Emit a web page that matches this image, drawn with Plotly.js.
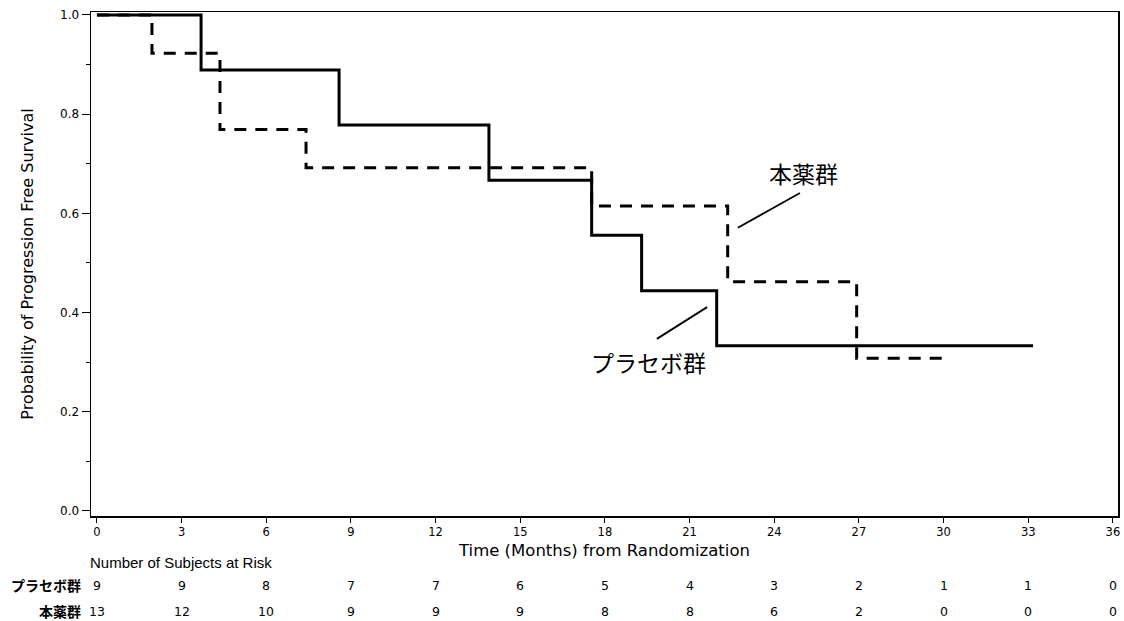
<!DOCTYPE html>
<html>
<head>
<meta charset="utf-8">
<script src="https://cdn.plot.ly/plotly-3.0.1.min.js"></script>
<style>html,body{margin:0;padding:0;background:#fff;}#chart{width:1124px;height:621px;}</style>
</head>
<body>
<div id="chart"></div>
<script>
// Kaplan-Meier step data (months, survival probability)
const placeboTime = [0, 3.69, 8.58, 13.89, 17.53, 19.3, 21.96, 33.17];
const placeboSurv = [1.0, 0.889, 0.778, 0.667, 0.556, 0.444, 0.333, 0.333];
const drugTime = [0, 1.95, 4.36, 7.41, 17.53, 22.35, 26.92, 29.98];
const drugSurv = [1.0, 0.923, 0.769, 0.692, 0.615, 0.462, 0.308, 0.308];

// Number at risk table
const riskTimes = [0, 3, 6, 9, 12, 15, 18, 21, 24, 27, 30, 33, 36];
const placeboRisk = [9, 9, 8, 7, 7, 6, 5, 4, 3, 2, 1, 1, 0];
const drugRisk = [13, 12, 10, 9, 9, 9, 8, 8, 6, 2, 0, 0, 0];
const groupNames = ["プラセボ群", "本薬群"];

const xTicks = [0, 3, 6, 9, 12, 15, 18, 21, 24, 27, 30, 33, 36];
const yTicks = [0.0, 0.2, 0.4, 0.6, 0.8, 1.0];

const font = "DejaVu Sans, sans-serif";
const jpFont = "Noto Sans CJK JP, sans-serif";

const traces = [
  {x: placeboTime, y: placeboSurv, type: "scatter", mode: "lines", name: groupNames[0],
   line: {shape: "hv", color: "#000", width: 3}, showlegend: false},
  {x: drugTime, y: drugSurv, type: "scatter", mode: "lines", name: groupNames[1],
   line: {shape: "hv", color: "#000", width: 3, dash: "12px,9px"}, showlegend: false}
];

const annotations = [];
const rowY = [-0.137, -0.189];
const rows = [placeboRisk, drugRisk];
rows.forEach((vals, r) => {
  vals.forEach((v, i) => {
    annotations.push({x: riskTimes[i], y: rowY[r], xref: "x", yref: "paper", text: String(v),
      showarrow: false, xanchor: "center", yanchor: "middle", borderpad: 0,
      font: {family: font, size: 12.5, color: "#000"}});
  });
  annotations.push({x: -0.009, y: rowY[r], xref: "paper", yref: "paper", text: groupNames[r],
    showarrow: false, xanchor: "right", yanchor: "middle", borderpad: 0,
    font: {family: jpFont, size: 14, color: "#000", weight: 700}});
});
annotations.push({x: -0.003, y: -0.093, xref: "paper", yref: "paper", text: "Number of Subjects at Risk",
  showarrow: false, xanchor: "left", yanchor: "middle",
  font: {family: "Liberation Sans, Arial, sans-serif", size: 15, color: "#000"}});

// group labels
annotations.push({x: 25.02, y: 0.681, xref: "x", yref: "y", text: groupNames[1],
  showarrow: false, xanchor: "center", yanchor: "middle",
  font: {family: jpFont, size: 23, color: "#000"}});
annotations.push({x: 19.53, y: 0.300, xref: "x", yref: "y", text: groupNames[0],
  showarrow: false, xanchor: "center", yanchor: "middle",
  font: {family: jpFont, size: 23, color: "#000"}});

// leader lines from labels to curves
const shapes = [
  {type: "line", xref: "x", yref: "y", x0: 24.91, y0: 0.641, x1: 22.71, y1: 0.571,
   line: {color: "#000", width: 1.8}},
  {type: "line", xref: "x", yref: "y", x0: 19.84, y0: 0.347, x1: 21.62, y1: 0.411,
   line: {color: "#000", width: 1.8}}
];

const layout = {
  width: 1124, height: 621,
  margin: {l: 91, r: 6, t: 12, b: 105},
  paper_bgcolor: "#fff", plot_bgcolor: "#fff",
  showlegend: false,
  xaxis: {
    range: [-0.21, 36.18], tickvals: xTicks, ticktext: xTicks.map(String),
    ticks: "outside", ticklen: 5, tickwidth: 1, tickcolor: "#000",
    showline: true, linecolor: "#000", linewidth: 1.5, mirror: true,
    showgrid: false, zeroline: false,
    tickfont: {family: font, size: 11.5, color: "#000"},
    title: {text: "Time (Months) from Randomization", standoff: 6,
      font: {family: font, size: 16.5, color: "#000"}}
  },
  yaxis: {
    range: [-0.0101, 1.006], tickvals: yTicks, ticktext: yTicks.map(v => v.toFixed(1)),
    ticks: "outside", ticklen: 8, tickwidth: 1, tickcolor: "#000",
    minor: {tickvals: [0.1, 0.3, 0.5, 0.7, 0.9], ticks: "outside", ticklen: 4, tickcolor: "#000", showgrid: false},
    showline: true, linecolor: "#000", linewidth: 1.5, mirror: true,
    showgrid: false, zeroline: false,
    tickfont: {family: font, size: 12, color: "#000"},
    title: {text: "Probability of Progression Free Survival", standoff: 22,
      font: {family: font, size: 16, color: "#000"}}
  },
  shapes: shapes,
  annotations: annotations
};

Plotly.newPlot("chart", traces, layout, {displayModeBar: false, staticPlot: true});
</script>
</body>
</html>
